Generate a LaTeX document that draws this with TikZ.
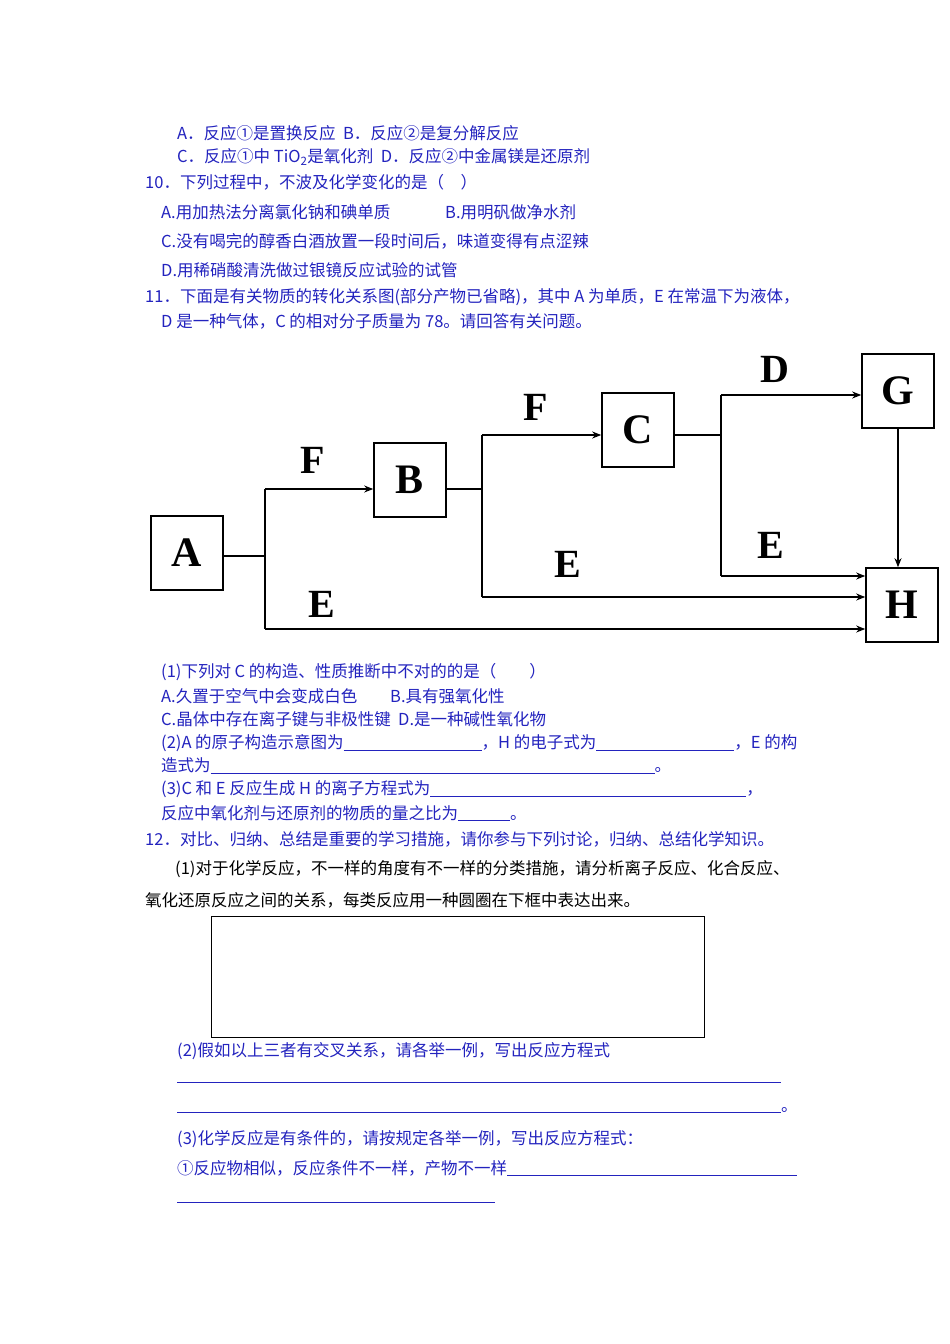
\documentclass[tikz,border=0pt]{standalone}
\usepackage{fontspec}
\setmainfont{Noto Sans CJK SC}
\newfontfamily\serifb{Liberation Serif}
\usetikzlibrary{arrows.meta}
\definecolor{qblue}{RGB}{35,35,190}
\newcommand{\blank}[1]{\rule[-2pt]{#1pt}{0.7pt}}
\begin{document}
\begin{tikzpicture}[x=1pt,y=-1pt,
  txt/.style={anchor=west,inner sep=0pt,font=\fontsize{16.5}{19}\selectfont,text=qblue},
  blk/.style={txt,text=black},
  bx/.style={draw,line width=1.6pt,minimum width=72pt,minimum height=74pt,inner sep=0pt,font=\serifb\bfseries\fontsize{42}{42}\selectfont},
  ln/.style={line width=1.6pt},
  ar/.style={ln,-{Stealth[length=9pt,width=7pt]}},
  lab/.style={font=\serifb\bfseries\fontsize{40}{40}\selectfont,inner sep=0pt}]
\useasboundingbox (0,0) rectangle (950,1344);
\node[txt] (t1) at (177,133) {A．反应①是置换反应\ \ B．反应②是复分解反应};
\node[txt] (t2) at (177,157) {C．反应①中 TiO\textsubscript{2}是氧化剂\ \ D．反应②中金属镁是还原剂};
\node[txt] (t3) at (145,182) {10．下列过程中，不波及化学变化的是（\quad ）};
\node[txt] (t4) at (161,212) {A.用加热法分离氯化钠和碘单质};
\node[txt] (t4b) at (445,212) {B.用明矾做净水剂};
\node[txt] (t5) at (161,241) {C.没有喝完的醇香白酒放置一段时间后，味道变得有点涩辣};
\node[txt] (t6) at (161,270) {D.用稀硝酸清洗做过银镜反应试验的试管};
\node[txt] (t7) at (145,297) {11．下面是有关物质的转化关系图(部分产物已省略)，其中 A 为单质，E 在常温下为液体，};
\node[txt] (t8) at (161,321) {D 是一种气体，C 的相对分子质量为 78。请回答有关问题。};
% diagram
\node[bx] (A) at (187,553) {A};
\node[bx] (B) at (410,480) {B};
\node[bx] (C) at (638,430) {C};
\node[bx] (G) at (898,391) {G};
\node[bx] (H) at (902,605) {H};
\coordinate (j1) at (265,556);
\coordinate (j2) at (482,489);
\coordinate (j3) at (721,435);
\draw[ln] (A.east|-j1) -- (j1);
\draw[ln] (265,489) -- (265,629);
\draw[ar] (265,489) -- (B.west|-0,489);
\draw[ar] (265,629) -- (H.west|-0,629);
\draw[ln] (B.east|-j2) -- (j2);
\draw[ln] (482,435) -- (482,597);
\draw[ar] (482,435) -- (C.west|-0,435);
\draw[ar] (482,597) -- (H.west|-0,597);
\draw[ln] (C.east|-j3) -- (j3);
\draw[ln] (721,395) -- (721,576);
\draw[ar] (721,395) -- (G.west|-0,395);
\draw[ar] (721,576) -- (H.west|-0,576);
\draw[ar] (G.south) -- (H.north-|G.south);
\node[lab] (lF1) at (313,460) {F};
\node[lab] (lE1) at (322,604) {E};
\node[lab] (lF2) at (536,407) {F};
\node[lab] (lE2) at (568,564) {E};
\node[lab] (lD) at (775,369) {D};
\node[lab] (lE3) at (771,545) {E};
% questions
\node[txt] (q1) at (161,672) {(1)下列对 C 的构造、性质推断中不对的的是（\qquad ）};
\node[txt] (q2) at (161,696) {A.久置于空气中会变成白色};
\node[txt] (q2b) at (390,696) {B.具有强氧化性};
\node[txt] (q3) at (161,719) {C.晶体中存在离子键与非极性键\ \ D.是一种碱性氧化物};
\node[txt] (q4) at (161,743) {(2)A 的原子构造示意图为\blank{138}，H 的电子式为\blank{138}，E 的构};
\node[txt] (q5) at (161,766) {造式为\blank{444}。};
\node[txt] (q6) at (161,789) {(3)C 和 E 反应生成 H 的离子方程式为\blank{316}，};
\node[txt] (q7) at (161,813) {反应中氧化剂与还原剂的物质的量之比为\blank{52}。};
\node[txt] (q8) at (145,839) {12．对比、归纳、总结是重要的学习措施，请你参与下列讨论，归纳、总结化学知识。};
\node[blk] (q9) at (175,869) {(1)对于化学反应，不一样的角度有不一样的分类措施，请分析离子反应、化合反应、};
\node[blk] (q10) at (145,900) {氧化还原反应之间的关系，每类反应用一种圆圈在下框中表达出来。};
\draw[line width=0.6pt] (211,916) rectangle (704,1037);
\node[txt] (q11) at (177,1051) {(2)假如以上三者有交叉关系，请各举一例，写出反应方程式};
\node[txt] (q12) at (177,1082) {\blank{604}};
\node[txt] (q13) at (177,1110) {\blank{604}。};
\node[txt] (q14) at (177,1139) {(3)化学反应是有条件的，请按规定各举一例，写出反应方程式：};
\node[txt] (q15) at (177,1168) {①反应物相似，反应条件不一样，产物不一样\blank{290}};
\node[txt] (q16) at (177,1202) {\blank{318}};
\end{tikzpicture}
\end{document}
